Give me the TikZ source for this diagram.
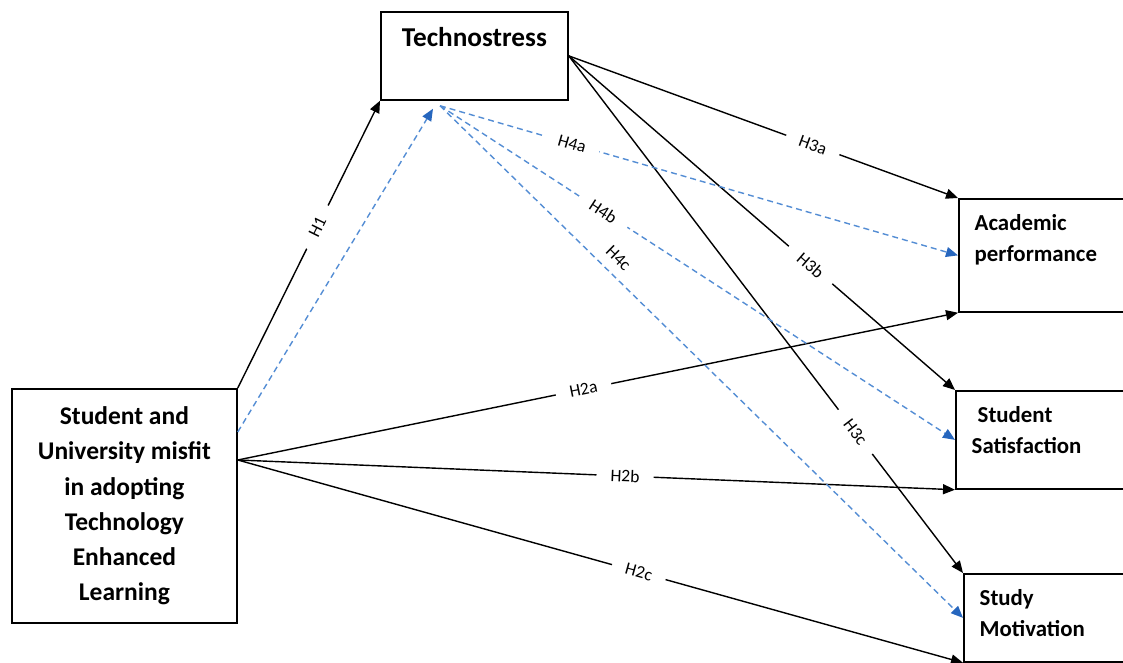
\documentclass[tikz,border=0pt]{standalone}
\usepackage{fontspec}
\setmainfont{Carlito}
\usetikzlibrary{calc,positioning,arrows.meta}
\definecolor{hypblue}{RGB}{84,141,212}
\definecolor{tipblue}{RGB}{38,102,190}

\begin{document}
\begin{tikzpicture}[line width=0.8pt,
  box/.style={draw, line width=1pt, inner sep=0pt, anchor=north west},
  hyp/.style={-{Triangle[length=2.4mm,width=2mm]}},
  med/.style={hypblue, dash pattern=on 3.4pt off 2.3pt, -{Triangle[length=2.4mm,width=2mm,color=tipblue]}},
  lbl/.style={sloped, fill=white, inner xsep=8pt, inner ysep=1pt, font=\fontsize{10}{12}\selectfont},
  rtext/.style={inner sep=0pt, align=left, font=\fontsize{13}{17.6}\selectfont\bfseries}]

  \useasboundingbox (0,0) rectangle (22.46,13.26);

  % constructs
  \node[box, minimum width=4.5cm, minimum height=4.68cm, align=center,
        font=\fontsize{14.5}{20}\selectfont\bfseries] (stud) at (0.22,5.50)
       {Student and\\University misfit\\in adopting\\Technology\\Enhanced\\Learning};

  \node[box, minimum width=3.74cm, minimum height=1.76cm] (tech) at (7.6,13.04) {};
  \node[inner sep=0pt, font=\fontsize{15.5}{18}\selectfont\bfseries, below=0.32cm of tech.north] (techtxt) {Technostress};

  \node[box, minimum width=4cm, minimum height=2.26cm] (acad) at (19.16,9.30) {};
  \node[rtext, below right=0.32cm and 0.32cm of acad.north west] (acadtxt) {Academic\\performance};

  \node[box, minimum width=4cm, minimum height=1.96cm] (sat) at (19.10,5.46) {};
  \node[rtext, below right=0.32cm and 0.32cm of sat.north west] (sattxt) {\hspace*{1.2mm}Student\\Satisfaction};

  \node[box, minimum width=4cm, minimum height=1.76cm] (mot) at (19.26,1.80) {};
  \node[rtext, below right=0.32cm and 0.32cm of mot.north west] (mottxt) {Study\\Motivation};

  % end points on the box sides
  \coordinate (s1) at ($(stud.north east)+(0,-0.88)$);
  \coordinate (s2) at ($(stud.north east)+(0,-1.44)$);
  \coordinate (t1) at ($(tech.south west)+(1.06,-0.16)$);
  \coordinate (t2) at ($(tech.south west)+(1.2,-0.10)$);

  % direct paths
  \draw[hyp] (stud.north east) -- node[lbl, pos=0.56] (h1) {H1} (tech.south west);
  \draw[hyp] (s2) -- node[lbl, pos=0.48] (h2a) {H2a} (acad.south west);
  \draw[hyp] (s2) -- node[lbl, pos=0.54] (h2b) {H2b} (sat.south west);
  \draw[hyp] (s2) -- node[lbl, pos=0.553] (h2c) {H2c} (mot.south west);
  \draw[hyp] (tech.east) -- node[lbl, pos=0.627] (h3a) {H3a} (acad.north west);
  \draw[hyp] (tech.east) -- node[lbl, pos=0.626] (h3b) {H3b} (sat.north west);
  \draw[hyp] (tech.east) -- node[lbl, pos=0.727] (h3c) {H3c} (mot.north west);

  % mediated paths
  \draw[med] (s1) -- (t1);
  \draw[med] (t2) -- node[lbl, text=black, pos=0.255] (h4a) {H4a} (acad.west);
  \draw[med] (t2) -- node[lbl, text=black, pos=0.317] (h4b) {H4b} (sat.west);
  \draw[med] (t2) -- node[sloped, above=2pt, pos=0.32, text=black, font=\fontsize{10}{12}\selectfont] (h4c) {H4c} (mot.west);
\end{tikzpicture}
\end{document}
